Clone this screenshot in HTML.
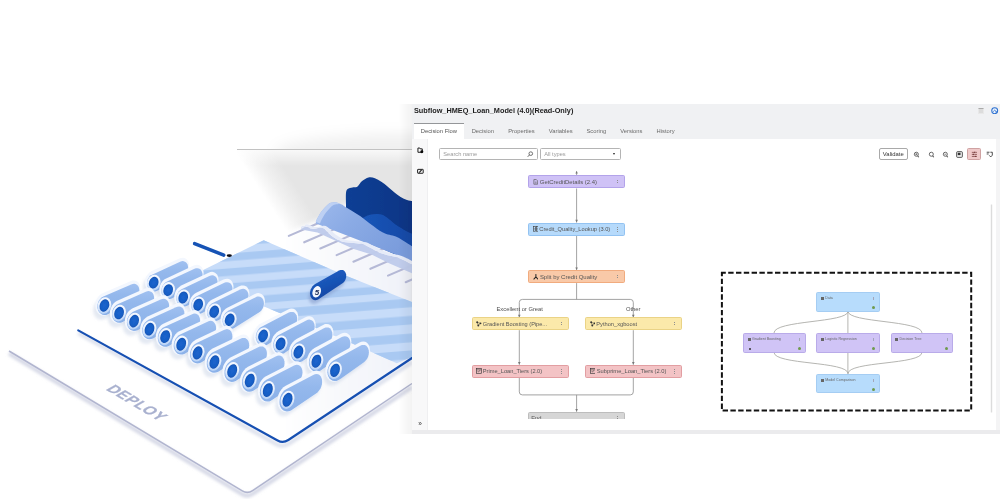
<!DOCTYPE html>
<html><head><meta charset="utf-8"><title>Subflow</title><style>
html,body{margin:0;padding:0;background:#fff}
body{width:1000px;height:499px;position:relative;overflow:hidden;font-family:"Liberation Sans",sans-serif}
#illus{position:absolute;left:0;top:0}
#win{position:absolute;left:0;top:0;width:1000px;height:499px;filter:blur(.35px)}
#win *{position:absolute;box-sizing:border-box}
#win svg *{position:static}
#hdr{left:412px;top:104px;width:588px;height:35px;background:#f0f1f3}
#win::before{content:"";position:absolute;left:412px;top:139px;width:588px;height:291px;background:#fff}
#title{left:414px;top:106.2px;font-size:7.3px;font-weight:bold;color:#1c1c1c;white-space:nowrap;line-height:9px}
#tabact{left:413.6px;top:122.9px;width:50.6px;height:16.1px;background:#fff;border-top:1.9px solid #949699}
.tab{top:128.3px;font-size:5.8px;line-height:7px;color:#6a6a6a;white-space:nowrap}
#hic1{left:978.3px;top:107.6px;width:6.2px;height:6.2px;background:#dcdcdc;border:1px solid #e8e8e8;border-top:1.6px solid #aaa}
#hic2{left:991.3px;top:106.8px;width:7.4px;height:7.4px}
#side{left:412px;top:139px;width:15.6px;height:291px;background:#f8f8f9;border-right:1px solid #efeff1}
.sic{width:6.8px;height:6.8px}
#chev{left:418.2px;top:420px;font-size:6.5px;line-height:8px;color:#333}
#search{left:439px;top:148px;width:98.6px;height:12.3px;border:1px solid #b4b4b4;border-radius:1.5px;background:#fff}
#search span{left:3.3px;top:2.1px;font-size:5.7px;line-height:7px;color:#9a9a9a;white-space:nowrap}
#search svg{right:2.6px;top:2.2px;width:6.6px;height:6.6px}
#types{left:540px;top:148px;width:80.6px;height:12.3px;border:1px solid #b4b4b4;border-radius:1.5px;background:#fff}
#types span{left:3.2px;top:2.1px;font-size:5.7px;line-height:7px;color:#9a9a9a;white-space:nowrap}
#types i{right:4.6px;top:4.4px;width:0;height:0;border-left:1.7px solid transparent;border-right:1.7px solid transparent;border-top:2.3px solid #222}
#validate{left:878.9px;top:147.9px;width:28.8px;height:12.5px;border:1px solid #a9a9a9;border-radius:2px;background:#fff;font-size:5.9px;line-height:10.6px;text-align:center;color:#333}
.tic{top:150.8px;width:7px;height:7px}
#pinkb{left:967.4px;top:148.4px;width:13.2px;height:11.2px;background:#efc9c9;border:1px solid #cfa2a2;border-radius:1.5px}
#pinkb svg{left:2.2px;top:1.2px;width:6.8px;height:6.8px}
#wires{left:0;top:0}
.node{border:1px solid;border-radius:1.6px}
.node .ic{left:3.3px;top:2.8px;width:5.8px;height:5.8px}
.node .ic svg{left:0;top:0}
.node .lb{top:2.7px;font-size:5.8px;line-height:7px;color:#555;white-space:nowrap}
.node .kb{right:5.9px;top:3.7px;width:.9px;height:4.6px;background:repeating-linear-gradient(#8e8e8e 0 .9px,transparent .9px 1.85px)}
.el{font-size:5.8px;line-height:7px;color:#4f4f4f;white-space:nowrap}
#endclip{left:528.4px;top:411.8px;width:96.8px;height:7.4px;overflow:hidden}
.mn{border:1px solid;border-radius:1.6px}
.mn .mi{left:3.8px;top:4px;width:2.8px;height:3px;background:repeating-linear-gradient(#666 0 .7px,transparent .7px 1.15px)}
.mn .ml{left:7.9px;top:3.1px;font-size:3.6px;line-height:4.2px;color:#666;white-space:nowrap}
.mn .mk{right:5.2px;top:4.2px;width:.7px;height:3px;background:#a3a6ba}
.mn .md{right:4px;top:13.2px;width:3px;height:3px;border-radius:50%;background:#6f9a4d}
.mn .md2{left:4.6px;top:13.8px;width:2px;height:2px;border-radius:50%;background:#333}
#botbar{left:412px;top:429.8px;width:588px;height:3.9px;background:#ebebed}
#rstrip{left:996.4px;top:139px;width:3.6px;height:291px;background:#f4f4f5}
</style></head>
<body>

<svg id="illus" width="1000" height="499" viewBox="0 0 1000 499">
<defs>
  <linearGradient id="gg" gradientUnits="userSpaceOnUse" x1="239" y1="158" x2="266" y2="140.4">
    <stop offset="0" stop-color="#ffffff"/><stop offset=".45" stop-color="#f1f1f1"/><stop offset="1" stop-color="#e5e5e5"/>
  </linearGradient>
  <linearGradient id="gt" x1="0" y1="0" x2="0" y2="1">
    <stop offset="0" stop-color="#fff" stop-opacity=".75"/><stop offset="1" stop-color="#fff" stop-opacity="0"/>
  </linearGradient>
  <linearGradient id="cb" x1="0" y1="0" x2="0" y2="1">
    <stop offset="0" stop-color="#a0c0f0"/><stop offset=".35" stop-color="#94b8ec"/><stop offset="1" stop-color="#8bb1e9"/>
  </linearGradient>
  <linearGradient id="cr" x1=".3" y1="0" x2=".6" y2="1">
    <stop offset="0" stop-color="#f6f9ff"/><stop offset=".45" stop-color="#e9f1fd"/><stop offset="1" stop-color="#b7d2f7"/>
  </linearGradient>
  <radialGradient id="cc" cx=".5" cy=".5" r=".5">
    <stop offset="0" stop-color="#1b64cd"/><stop offset=".7" stop-color="#185fc6"/><stop offset="1" stop-color="#1351b2"/>
  </radialGradient>
  <linearGradient id="sb" x1=".3" y1="0" x2=".7" y2="1">
    <stop offset="0" stop-color="#2060c4"/><stop offset=".5" stop-color="#1752b4"/><stop offset="1" stop-color="#10429c"/>
  </linearGradient>
  <linearGradient id="wn" x1="0" y1="0" x2="1" y2="0">
    <stop offset="0" stop-color="#0d3f95"/><stop offset="1" stop-color="#0a3585"/>
  </linearGradient>
  <linearGradient id="wm" x1="0" y1="0" x2="1" y2="0">
    <stop offset="0" stop-color="#1a55b8"/><stop offset="1" stop-color="#1549a6"/>
  </linearGradient>
  <linearGradient id="wl" x1="0" y1="0" x2="1" y2=".6">
    <stop offset="0" stop-color="#9db9ec"/><stop offset=".4" stop-color="#8babe5"/><stop offset="1" stop-color="#7a9cdc"/>
  </linearGradient>
  <linearGradient id="pl" gradientUnits="userSpaceOnUse" x1="280" y1="0" x2="412" y2="0">
    <stop offset="0" stop-color="#ffffff"/><stop offset="1" stop-color="#eff1f8"/>
  </linearGradient>
  <linearGradient id="wsh" x1="0" y1="0" x2="1" y2="0">
    <stop offset="0" stop-color="#000" stop-opacity="0"/><stop offset="1" stop-color="#000" stop-opacity=".05"/>
  </linearGradient>
  <filter id="b1" x="-5%" y="-5%" width="110%" height="110%"><feGaussianBlur stdDeviation="0.4"/></filter>
  <filter id="b2" x="-30%" y="-60%" width="160%" height="220%"><feGaussianBlur stdDeviation="1.5"/></filter>
  <filter id="b4" x="-10%" y="-10%" width="120%" height="120%"><feGaussianBlur stdDeviation="2.2"/></filter>
  <filter id="b5" x="-5%" y="-5%" width="110%" height="110%"><feGaussianBlur stdDeviation="0.6"/></filter>
  <filter id="b6" x="-30%" y="-60%" width="160%" height="220%"><feGaussianBlur stdDeviation="7"/></filter>
  <filter id="b3" x="-30%" y="-30%" width="160%" height="160%"><feGaussianBlur stdDeviation="3"/></filter>
  <clipPath id="cs"><path d="M263.7,240.2 L193,275 L264,306.5 L342,339 L396.8,363.3 L412,357 L412,302 L344.7,275.2 Z"/></clipPath>
  <clipPath id="ctop"><rect x="250" y="100" width="162" height="49"/></clipPath>
  <clipPath id="cl"><rect x="0" y="0" width="412" height="499"/></clipPath>
</defs>
<g clip-path="url(#cl)" filter="url(#b1)">
  <!-- grey gradient backdrop -->
  <rect x="237" y="150" width="175" height="170" fill="url(#gg)"/>
  <rect x="237" y="150" width="175" height="16" fill="url(#gt)"/>
  <line x1="237" y1="149.5" x2="412" y2="149.5" stroke="#c2c2c2" stroke-width="1"/>
  <ellipse cx="400" cy="153" rx="125" ry="19" fill="#000" fill-opacity=".06" filter="url(#b6)" clip-path="url(#ctop)"/>
  <!-- lower base plate (white) + raised plate top -->
  <path d="M9,351 L78.5,313 L78.5,330 L283,443 L412,358 L412,383.5 L247.5,494 Z" fill="#fff"/>
  <path d="M78.5,330 L263.7,241.5 L288,231.6 L301,227 L316,220.5 L346,203 L412,230 L412,358 L283,443.5 Z" fill="url(#pl)" filter="url(#b4)"/>
  <!-- waves -->
  <path d="M346.0,204.3 C346.0,202.4 345.7,195.6 346.0,193.1 C346.3,190.6 346.5,190.0 347.6,189.1 C348.7,188.2 350.9,187.9 352.5,187.5 C354.1,187.1 355.7,187.8 357.3,186.7 C358.9,185.6 360.2,182.5 362.1,181.0 C364.0,179.5 366.4,178.0 368.5,177.5 C370.6,177.0 372.8,177.5 374.9,178.2 C377.0,178.9 379.1,180.4 381.3,181.8 C383.5,183.2 385.7,184.9 387.8,186.7 C389.9,188.4 392.1,190.6 394.2,192.3 C396.3,194.0 398.5,195.8 400.6,197.1 C402.7,198.4 405.0,199.3 407.0,200.0 C409.0,200.7 411.6,200.9 412.5,201.1 L412.5,250.0 L346.0,222.0 Z" fill="url(#wn)" />
<path d="M362.0,219.0 C362.4,218.7 363.2,217.8 364.5,217.1 C365.8,216.4 368.0,215.3 370.0,214.8 C372.0,214.3 374.3,213.9 376.5,213.9 C378.7,213.9 380.9,214.1 383.0,215.0 C385.1,215.9 387.5,218.1 389.4,219.5 C391.3,220.9 392.3,222.1 394.2,223.5 C396.1,224.9 398.5,226.5 400.6,227.8 C402.7,229.1 405.0,230.5 407.0,231.5 C409.0,232.5 411.6,233.6 412.5,234.0 L412.5,262.0 L362.0,240.0 Z" fill="url(#wm)" />
<g stroke="#b5b9d6" stroke-width="2.1" stroke-linecap="round"><line x1="288.8" y1="235.9" x2="319.8" y2="222.5"/>
<line x1="304.2" y1="242.3" x2="335.2" y2="228.9"/>
<line x1="320.3" y1="248.5" x2="351.3" y2="235.1"/>
<line x1="336.6" y1="255.1" x2="367.6" y2="241.7"/>
<line x1="353.4" y1="261.7" x2="384.4" y2="248.29999999999998"/>
<line x1="370.4" y1="268.8" x2="401.4" y2="255.4"/>
<line x1="388" y1="275.6" x2="419" y2="262.20000000000005"/>
<line x1="405.7" y1="282.2" x2="436.7" y2="268.8"/></g>
<path d="M315.8,222.0 C316.1,221.3 316.5,219.8 317.5,218.0 C318.5,216.2 320.0,213.3 321.8,211.0 C323.6,208.7 326.6,205.3 328.5,203.9 C330.4,202.5 331.7,202.8 333.0,202.6 C334.3,202.4 335.0,202.2 336.4,202.5 C337.8,202.8 339.3,203.3 341.2,204.3 C343.1,205.3 345.5,207.0 347.6,208.3 C349.8,209.6 352.0,211.0 354.1,212.3 C356.2,213.6 358.4,214.8 360.5,216.3 C362.6,217.8 364.8,219.6 366.9,221.2 C369.0,222.8 371.2,224.4 373.3,226.0 C375.4,227.6 377.6,229.5 379.7,230.8 C381.8,232.1 384.0,233.2 386.2,234.0 C388.4,234.8 390.5,234.9 392.6,235.6 C394.7,236.3 396.9,236.9 399.0,238.0 C401.1,239.1 403.1,240.6 405.4,242.0 C407.6,243.4 411.3,245.8 412.5,246.5 L412.5,261.0 L316.0,223.5 Z" fill="url(#wl)" />
<path d="M315.8,222.0 C316.1,221.3 316.5,219.8 317.5,218.0 C318.5,216.2 320.0,213.3 321.8,211.0 C323.6,208.7 326.6,205.3 328.5,203.9 C330.4,202.5 331.7,202.8 333.0,202.6 C334.3,202.4 335.0,202.2 336.4,202.5 C337.8,202.8 340.4,204.0 341.2,204.3 L345.4,205.9 C344.6,205.6 342.0,204.4 340.6,204.1 C339.2,203.8 338.5,204.0 337.2,204.2 C335.9,204.4 334.6,204.1 332.7,205.5 C330.8,206.9 327.8,210.2 326.0,212.6 C324.2,214.9 322.7,217.8 321.7,219.6 C320.7,221.4 320.3,222.9 320.0,223.6 Z" fill="#bdd0f3" />
<path d="M301.0,229.0 C301.2,228.6 301.2,226.8 302.0,226.4 C302.8,226.0 304.5,226.2 306.0,226.6 C307.5,227.0 309.1,228.3 310.8,228.6 C312.5,228.9 314.4,228.6 316.0,228.4 C317.6,228.2 319.4,227.5 320.7,227.5 C322.0,227.5 322.9,227.9 324.0,228.6 C325.1,229.3 325.7,230.4 327.4,231.9 C329.1,233.4 331.4,235.8 334.0,237.4 C336.6,239.1 339.5,240.9 342.8,241.8 C346.1,242.7 350.5,242.5 353.8,242.9 C357.1,243.3 359.9,243.2 362.7,244.0 C365.5,244.8 367.5,246.3 370.4,247.8 C373.3,249.3 377.0,251.6 380.3,252.9 C383.6,254.2 386.9,254.8 390.2,255.7 C393.5,256.6 396.5,256.9 400.2,258.4 C403.9,259.9 410.4,263.5 412.5,264.5 L412.5,273.5 L389.1,263.3 L371.5,254.6 L353.8,248.9 L336.2,241.0 L317.4,232.4 L301.0,229.6 Z" fill="#bfcbeb" fill-opacity=".97"/>
<path d="M301.0,229.0 C301.2,228.6 301.2,226.8 302.0,226.4 C302.8,226.0 304.5,226.2 306.0,226.6 C307.5,227.0 309.1,228.3 310.8,228.6 C312.5,228.9 314.4,228.6 316.0,228.4 C317.6,228.2 319.4,227.5 320.7,227.5 C322.0,227.5 322.9,227.9 324.0,228.6 C325.1,229.3 325.7,230.4 327.4,231.9 C329.1,233.4 331.4,235.8 334.0,237.4 C336.6,239.1 339.5,240.9 342.8,241.8 C346.1,242.7 350.5,242.5 353.8,242.9 C357.1,243.3 359.9,243.2 362.7,244.0 C365.5,244.8 367.5,246.3 370.4,247.8 C373.3,249.3 377.0,251.6 380.3,252.9 C383.6,254.2 386.9,254.8 390.2,255.7 C393.5,256.6 396.5,256.9 400.2,258.4 C403.9,259.9 410.4,263.5 412.5,264.5 L415.9,262.8 C413.8,261.8 407.3,258.2 403.6,256.7 C399.9,255.2 396.9,254.9 393.6,254.0 C390.3,253.1 387.0,252.5 383.7,251.2 C380.4,249.9 376.7,247.6 373.8,246.1 C370.9,244.6 368.9,243.1 366.1,242.3 C363.3,241.5 360.5,241.6 357.2,241.2 C353.9,240.8 349.5,241.0 346.2,240.1 C342.9,239.2 340.0,237.4 337.4,235.7 C334.8,234.1 332.5,231.7 330.8,230.2 C329.1,228.7 328.5,227.6 327.4,226.9 C326.3,226.2 325.4,225.8 324.1,225.8 C322.8,225.8 321.0,226.5 319.4,226.7 C317.8,226.9 315.9,227.2 314.2,226.9 C312.5,226.6 310.9,225.3 309.4,224.9 C307.9,224.5 306.2,224.3 305.4,224.7 C304.6,225.1 304.6,226.9 304.4,227.3 Z" fill="#e6ebf8" />
  <!-- striped area -->
  <g clip-path="url(#cs)">
    <rect x="180" y="230" width="240" height="150" fill="#c7dcf9"/>
    <g transform="rotate(-4.5 300 300)" filter="url(#b5)"><rect x="170" y="233.2" width="260" height="7.5" fill="#a9c9f2"/>
<rect x="170" y="248.1" width="260" height="7.5" fill="#a9c9f2"/>
<rect x="170" y="262.9" width="260" height="7.5" fill="#a9c9f2"/>
<rect x="170" y="277.8" width="260" height="7.5" fill="#a9c9f2"/>
<rect x="170" y="292.6" width="260" height="7.5" fill="#a9c9f2"/>
<rect x="170" y="307.2" width="260" height="8.6" fill="#a9c9f2"/>
<rect x="170" y="324.5" width="260" height="8.6" fill="#a9c9f2"/>
<rect x="170" y="342.2" width="260" height="8.6" fill="#a9c9f2"/>
<rect x="170" y="359.0" width="260" height="8.6" fill="#a9c9f2"/>
<rect x="170" y="376.7" width="260" height="8.6" fill="#a9c9f2"/></g>
  </g>
  <!-- pen -->
  <line x1="194.6" y1="243.6" x2="223.8" y2="255.2" stroke="#1553b5" stroke-width="3.5" stroke-linecap="round"/>
  <ellipse cx="229.3" cy="255.6" rx="2.6" ry="1.3" fill="#0a0a12"/>
  <!-- S cylinder -->
  <path d="M308.5,297.1 L308.7,295.3 L309.2,293.4 L310.0,291.7 L311.1,290.1 L312.3,288.9 L313.8,287.9 L337.6,274.3 L338.9,273.8 L340.2,273.7 L341.5,273.9 L342.6,274.6 L343.5,275.5 L344.2,276.7 L344.6,278.1 L344.8,279.7 L344.6,281.3 L344.2,282.9 L343.5,284.4 L342.5,285.8 L341.4,286.9 L318.1,302.4 L316.6,303.3 L315.2,303.8 L313.7,304.0 L312.3,303.7 L311.0,303.0 L309.9,301.9 L309.1,300.6 L308.7,298.9Z" fill="#7f97c6" fill-opacity=".55" filter="url(#b2)"/><path d="M310.0,293.3 L310.2,291.5 L310.7,289.6 L311.5,287.9 L312.6,286.3 L313.8,285.1 L315.2,284.1 L339.1,270.5 L340.4,270.0 L341.7,269.9 L343.0,270.1 L344.1,270.8 L345.0,271.7 L345.7,272.9 L346.1,274.3 L346.2,275.9 L346.1,277.5 L345.7,279.1 L345.0,280.6 L344.0,282.0 L342.9,283.1 L319.6,298.6 L318.1,299.5 L316.7,300.0 L315.2,300.2 L313.8,299.9 L312.5,299.2 L311.4,298.1 L310.6,296.8 L310.2,295.1Z" fill="url(#sb)" /><ellipse cx="316.7" cy="291.8" rx="4.1" ry="5.9" fill="#f4f7fd" transform="rotate(20 316.7 291.8)"/><text x="316.9" y="294.6" font-family="Liberation Sans, sans-serif" font-size="8" font-weight="bold" font-style="italic" fill="#1a2a55" text-anchor="middle">5</text>
  <!-- cylinders -->
  <path d="M142.8,287.8 L142.9,285.6 L143.4,283.4 L144.4,281.3 L145.7,279.5 L147.3,278.0 L149.1,276.9 L177.6,263.3 L179.2,262.7 L180.8,262.6 L182.4,262.9 L183.8,263.6 L184.9,264.7 L185.8,266.1 L186.4,267.8 L186.7,269.7 L186.5,271.6 L186.1,273.6 L185.2,275.4 L184.1,277.0 L182.8,278.4 L181.3,279.3 L156.1,294.4 L154.3,295.5 L152.3,296.1 L150.3,296.2 L148.4,295.8 L146.6,294.9 L145.1,293.6 L144.0,291.9 L143.2,290.0Z" fill="#9fb0d2" fill-opacity=".28" filter="url(#b2)"/>
<path d="M144.9,283.0 L145.0,280.6 L145.6,278.2 L146.6,275.9 L148.0,273.9 L149.8,272.3 L151.7,271.1 L179.3,258.5 L181.0,257.9 L182.8,257.7 L184.5,258.0 L186.0,258.8 L187.2,260.0 L188.2,261.6 L188.9,263.4 L189.1,265.5 L189.0,267.6 L188.4,269.8 L187.5,271.8 L186.3,273.6 L184.9,275.0 L183.2,276.1 L157.1,291.3 L155.0,291.9 L152.8,292.1 L150.8,291.6 L148.9,290.7 L147.3,289.3 L146.1,287.5 L145.3,285.3Z" fill="#f3f7fe" />
<path d="M147.0,283.9 L147.1,282.0 L147.5,280.0 L148.3,278.2 L149.5,276.6 L151.0,275.3 L152.6,274.4 L180.1,261.7 L181.5,261.2 L182.9,261.1 L184.3,261.4 L185.5,262.0 L186.6,263.0 L187.4,264.2 L187.9,265.7 L188.1,267.4 L188.0,269.0 L187.6,270.7 L186.9,272.3 L185.9,273.7 L184.8,274.8 L183.4,275.7 L159.0,289.9 L157.4,290.8 L155.6,291.4 L153.8,291.4 L152.1,291.1 L150.5,290.3 L149.1,289.1 L148.1,287.6 L147.3,285.9Z" fill="url(#cb)" />
<ellipse cx="153.7" cy="282.7" rx="6.70" ry="8.06" fill="url(#cr)" transform="rotate(19 153.7 282.7)"/>
<ellipse cx="153.7" cy="282.7" rx="4.70" ry="5.96" fill="url(#cc)" transform="rotate(19 153.7 282.7)"/>
<path d="M157.3,295.3 L157.3,293.0 L157.9,290.7 L158.8,288.6 L160.2,286.8 L161.8,285.3 L163.7,284.2 L192.0,270.4 L193.7,269.8 L195.3,269.6 L196.8,269.9 L198.2,270.7 L199.4,271.8 L200.3,273.2 L200.9,275.0 L201.1,276.9 L201.0,278.9 L200.5,280.8 L199.7,282.7 L198.6,284.3 L197.2,285.7 L195.7,286.7 L170.6,301.9 L168.8,303.0 L166.8,303.6 L164.8,303.8 L162.8,303.4 L161.1,302.5 L159.6,301.2 L158.4,299.5 L157.6,297.5Z" fill="#9fb0d2" fill-opacity=".28" filter="url(#b2)"/>
<path d="M159.3,290.5 L159.4,288.0 L160.0,285.5 L161.1,283.3 L162.5,281.2 L164.2,279.6 L166.2,278.4 L193.7,265.6 L195.5,264.9 L197.2,264.8 L198.9,265.1 L200.4,265.9 L201.7,267.1 L202.7,268.7 L203.3,270.6 L203.6,272.7 L203.4,274.9 L202.9,277.0 L202.0,279.1 L200.8,280.9 L199.3,282.4 L197.6,283.5 L171.6,298.8 L169.4,299.5 L167.3,299.6 L165.2,299.2 L163.4,298.3 L161.8,296.9 L160.5,295.0 L159.7,292.8Z" fill="#f3f7fe" />
<path d="M161.4,291.4 L161.5,289.4 L161.9,287.4 L162.8,285.5 L164.0,283.9 L165.4,282.6 L167.1,281.6 L194.5,268.8 L195.9,268.3 L197.4,268.2 L198.7,268.5 L200.0,269.1 L201.0,270.1 L201.8,271.4 L202.4,272.9 L202.6,274.5 L202.5,276.2 L202.1,278.0 L201.3,279.6 L200.3,281.0 L199.2,282.2 L197.8,283.0 L173.6,297.4 L171.9,298.4 L170.1,298.9 L168.3,299.0 L166.5,298.6 L164.9,297.8 L163.5,296.6 L162.5,295.1 L161.7,293.4Z" fill="url(#cb)" />
<ellipse cx="168.2" cy="290.1" rx="6.70" ry="8.13" fill="url(#cr)" transform="rotate(19 168.2 290.1)"/>
<ellipse cx="168.2" cy="290.1" rx="4.70" ry="6.03" fill="url(#cc)" transform="rotate(19 168.2 290.1)"/>
<path d="M172.2,302.7 L172.3,300.4 L172.8,298.1 L173.8,296.0 L175.2,294.1 L176.8,292.6 L178.7,291.4 L206.9,277.5 L208.6,276.9 L210.2,276.7 L211.8,277.0 L213.2,277.7 L214.4,278.9 L215.3,280.4 L215.9,282.1 L216.1,284.0 L216.0,286.1 L215.5,288.1 L214.6,289.9 L213.5,291.6 L212.1,293.0 L210.6,294.0 L185.6,309.4 L183.7,310.6 L181.7,311.2 L179.7,311.3 L177.8,310.9 L176.0,310.1 L174.5,308.7 L173.3,307.0 L172.5,304.9Z" fill="#9fb0d2" fill-opacity=".28" filter="url(#b2)"/>
<path d="M174.2,297.9 L174.4,295.4 L175.0,292.9 L176.0,290.6 L177.5,288.6 L179.2,286.9 L181.2,285.6 L208.6,272.7 L210.4,272.0 L212.2,271.8 L213.9,272.2 L215.4,272.9 L216.7,274.2 L217.7,275.8 L218.3,277.7 L218.5,279.8 L218.4,282.1 L217.8,284.3 L216.9,286.3 L215.7,288.2 L214.2,289.7 L212.5,290.8 L186.6,306.4 L184.4,307.1 L182.3,307.2 L180.2,306.8 L178.3,305.8 L176.7,304.4 L175.4,302.5 L174.6,300.3Z" fill="#f3f7fe" />
<path d="M176.3,298.9 L176.4,296.8 L176.9,294.8 L177.8,292.9 L179.0,291.2 L180.4,289.9 L182.1,288.9 L209.4,275.9 L210.9,275.4 L212.3,275.3 L213.7,275.5 L214.9,276.2 L216.0,277.2 L216.8,278.5 L217.3,280.0 L217.6,281.7 L217.4,283.5 L217.0,285.2 L216.3,286.8 L215.3,288.3 L214.1,289.5 L212.7,290.4 L188.6,304.9 L186.9,305.9 L185.1,306.5 L183.2,306.6 L181.5,306.2 L179.8,305.4 L178.5,304.2 L177.4,302.6 L176.7,300.8Z" fill="url(#cb)" />
<ellipse cx="183.2" cy="297.5" rx="6.70" ry="8.20" fill="url(#cr)" transform="rotate(19 183.2 297.5)"/>
<ellipse cx="183.2" cy="297.5" rx="4.70" ry="6.10" fill="url(#cc)" transform="rotate(19 183.2 297.5)"/>
<path d="M187.1,310.0 L187.2,307.6 L187.8,305.3 L188.8,303.1 L190.1,301.2 L191.8,299.6 L193.7,298.5 L221.9,284.4 L223.5,283.8 L225.2,283.6 L226.7,283.9 L228.2,284.6 L229.3,285.8 L230.3,287.3 L230.8,289.1 L231.1,291.0 L230.9,293.1 L230.4,295.1 L229.6,297.0 L228.4,298.7 L227.0,300.1 L225.5,301.2 L200.6,316.8 L198.7,317.9 L196.7,318.6 L194.7,318.7 L192.7,318.3 L190.9,317.4 L189.4,316.1 L188.2,314.3 L187.4,312.2Z" fill="#9fb0d2" fill-opacity=".28" filter="url(#b2)"/>
<path d="M189.2,305.2 L189.3,302.6 L189.9,300.1 L191.0,297.8 L192.4,295.7 L194.2,293.9 L196.2,292.7 L223.5,279.6 L225.3,278.9 L227.1,278.7 L228.8,279.0 L230.4,279.8 L231.7,281.1 L232.6,282.7 L233.3,284.7 L233.5,286.8 L233.3,289.1 L232.8,291.3 L231.8,293.4 L230.6,295.3 L229.1,296.8 L227.4,298.0 L201.6,313.7 L199.4,314.4 L197.2,314.6 L195.1,314.2 L193.2,313.2 L191.6,311.7 L190.3,309.8 L189.5,307.6Z" fill="#f3f7fe" />
<path d="M191.3,306.1 L191.3,304.0 L191.8,302.0 L192.7,300.0 L193.9,298.3 L195.4,296.9 L197.1,295.9 L224.3,282.8 L225.8,282.3 L227.2,282.2 L228.6,282.4 L229.9,283.1 L231.0,284.1 L231.8,285.4 L232.3,286.9 L232.5,288.7 L232.4,290.5 L231.9,292.2 L231.2,293.9 L230.2,295.4 L229.0,296.6 L227.6,297.5 L203.6,312.3 L201.9,313.3 L200.0,313.8 L198.2,313.9 L196.4,313.6 L194.8,312.8 L193.4,311.5 L192.3,310.0 L191.6,308.1Z" fill="url(#cb)" />
<ellipse cx="198.2" cy="304.7" rx="6.70" ry="8.27" fill="url(#cr)" transform="rotate(19 198.2 304.7)"/>
<ellipse cx="198.2" cy="304.7" rx="4.70" ry="6.17" fill="url(#cc)" transform="rotate(19 198.2 304.7)"/>
<path d="M203.0,317.0 L203.2,314.6 L203.7,312.3 L204.7,310.1 L206.1,308.1 L207.8,306.5 L209.7,305.4 L237.8,291.1 L239.4,290.4 L241.1,290.3 L242.7,290.6 L244.1,291.3 L245.3,292.5 L246.2,294.0 L246.8,295.8 L247.0,297.8 L246.9,299.9 L246.3,301.9 L245.5,303.9 L244.3,305.6 L242.9,307.1 L241.3,308.1 L216.6,323.9 L214.7,325.0 L212.7,325.7 L210.6,325.9 L208.7,325.5 L206.9,324.6 L205.3,323.2 L204.2,321.4 L203.4,319.3Z" fill="#9fb0d2" fill-opacity=".28" filter="url(#b2)"/>
<path d="M205.1,312.2 L205.2,309.6 L205.9,307.1 L206.9,304.7 L208.4,302.6 L210.2,300.8 L212.3,299.6 L239.4,286.3 L241.2,285.6 L243.1,285.4 L244.8,285.7 L246.3,286.5 L247.6,287.8 L248.6,289.4 L249.2,291.4 L249.4,293.6 L249.3,295.9 L248.7,298.1 L247.8,300.3 L246.5,302.2 L245.0,303.7 L243.3,304.9 L217.5,320.8 L215.4,321.6 L213.2,321.7 L211.1,321.3 L209.2,320.3 L207.5,318.9 L206.3,316.9 L205.4,314.7Z" fill="#f3f7fe" />
<path d="M207.2,313.2 L207.3,311.0 L207.8,308.9 L208.7,307.0 L209.9,305.2 L211.4,303.8 L213.2,302.8 L240.2,289.5 L241.7,289.0 L243.2,288.8 L244.6,289.1 L245.8,289.8 L246.9,290.8 L247.7,292.1 L248.3,293.7 L248.5,295.4 L248.3,297.2 L247.9,299.1 L247.1,300.8 L246.1,302.3 L244.9,303.5 L243.5,304.5 L219.6,319.4 L217.8,320.4 L216.0,321.0 L214.2,321.1 L212.4,320.7 L210.7,319.9 L209.3,318.7 L208.2,317.1 L207.5,315.2Z" fill="url(#cb)" />
<ellipse cx="214.2" cy="311.7" rx="6.70" ry="8.34" fill="url(#cr)" transform="rotate(19 214.2 311.7)"/>
<ellipse cx="214.2" cy="311.7" rx="4.70" ry="6.24" fill="url(#cc)" transform="rotate(19 214.2 311.7)"/>
<path d="M218.5,325.1 L218.6,322.7 L219.2,320.3 L220.2,318.0 L221.6,316.0 L223.3,314.4 L225.2,313.2 L253.2,298.8 L254.8,298.1 L256.5,297.9 L258.1,298.2 L259.6,299.0 L260.8,300.1 L261.7,301.7 L262.3,303.5 L262.5,305.5 L262.3,307.6 L261.8,309.8 L260.9,311.8 L259.7,313.5 L258.3,315.0 L256.7,316.1 L232.1,332.0 L230.2,333.2 L228.2,333.9 L226.1,334.0 L224.1,333.6 L222.3,332.7 L220.8,331.3 L219.6,329.5 L218.8,327.4Z" fill="#9fb0d2" fill-opacity=".28" filter="url(#b2)"/>
<path d="M220.5,320.3 L220.7,317.7 L221.3,315.1 L222.4,312.6 L223.9,310.5 L225.7,308.7 L227.8,307.4 L254.9,294.0 L256.7,293.3 L258.5,293.1 L260.2,293.4 L261.8,294.2 L263.1,295.5 L264.1,297.1 L264.7,299.1 L264.9,301.3 L264.7,303.7 L264.1,305.9 L263.2,308.1 L261.9,310.1 L260.4,311.7 L258.7,312.9 L233.0,329.0 L230.8,329.7 L228.6,329.9 L226.5,329.5 L224.6,328.5 L222.9,327.0 L221.7,325.1 L220.9,322.8Z" fill="#f3f7fe" />
<path d="M222.6,321.2 L222.7,319.1 L223.2,316.9 L224.1,314.9 L225.4,313.1 L226.9,311.7 L228.7,310.6 L255.7,297.2 L257.1,296.6 L258.6,296.5 L260.0,296.8 L261.3,297.4 L262.4,298.5 L263.2,299.8 L263.7,301.4 L263.9,303.2 L263.8,305.1 L263.3,306.9 L262.6,308.6 L261.5,310.2 L260.3,311.5 L258.9,312.4 L235.1,327.5 L233.3,328.6 L231.5,329.1 L229.6,329.3 L227.8,328.9 L226.2,328.1 L224.7,326.8 L223.7,325.2 L222.9,323.3Z" fill="url(#cb)" />
<ellipse cx="229.7" cy="319.7" rx="6.70" ry="8.42" fill="url(#cr)" transform="rotate(19 229.7 319.7)"/>
<ellipse cx="229.7" cy="319.7" rx="4.70" ry="6.32" fill="url(#cc)" transform="rotate(19 229.7 319.7)"/>
<path d="M251.7,341.3 L251.8,338.8 L252.5,336.3 L253.5,334.0 L254.9,331.9 L256.7,330.2 L258.6,329.0 L286.4,314.2 L288.1,313.5 L289.8,313.3 L291.4,313.6 L292.9,314.4 L294.1,315.6 L295.0,317.2 L295.6,319.1 L295.8,321.1 L295.6,323.3 L295.0,325.5 L294.1,327.6 L292.9,329.4 L291.5,330.9 L289.9,332.1 L265.5,348.4 L263.6,349.6 L261.5,350.3 L259.4,350.5 L257.4,350.1 L255.6,349.2 L254.0,347.8 L252.8,345.9 L252.0,343.7Z" fill="#9fb0d2" fill-opacity=".28" filter="url(#b2)"/>
<path d="M253.8,336.5 L253.9,333.8 L254.6,331.1 L255.7,328.6 L257.2,326.4 L259.1,324.6 L261.2,323.2 L288.1,309.4 L289.9,308.7 L291.7,308.4 L293.5,308.8 L295.1,309.6 L296.4,310.9 L297.4,312.6 L298.0,314.7 L298.2,316.9 L298.0,319.3 L297.4,321.7 L296.4,323.9 L295.1,325.9 L293.6,327.6 L291.8,328.8 L268.5,344.1 L266.4,345.4 L264.2,346.2 L261.9,346.4 L259.8,346.0 L257.8,345.0 L256.2,343.4 L254.9,341.4 L254.1,339.1Z" fill="#f3f7fe" />
<path d="M255.8,337.4 L256.0,335.2 L256.5,333.0 L257.4,330.9 L258.7,329.1 L260.3,327.5 L262.1,326.4 L288.8,312.6 L290.4,312.1 L291.9,311.9 L293.3,312.1 L294.6,312.8 L295.7,313.9 L296.5,315.3 L297.0,316.9 L297.2,318.8 L297.1,320.7 L296.6,322.6 L295.8,324.4 L294.7,326.1 L293.4,327.4 L292.0,328.4 L268.5,343.9 L266.7,345.0 L264.8,345.6 L262.9,345.7 L261.1,345.4 L259.4,344.5 L258.0,343.2 L256.9,341.6 L256.2,339.6Z" fill="url(#cb)" />
<ellipse cx="263.1" cy="335.8" rx="6.70" ry="8.58" fill="url(#cr)" transform="rotate(19 263.1 335.8)"/>
<ellipse cx="263.1" cy="335.8" rx="4.70" ry="6.48" fill="url(#cc)" transform="rotate(19 263.1 335.8)"/>
<path d="M269.1,349.5 L269.3,346.9 L269.9,344.4 L271.0,342.0 L272.4,339.9 L274.2,338.2 L276.1,336.9 L303.8,322.0 L305.5,321.3 L307.2,321.1 L308.8,321.3 L310.3,322.1 L311.5,323.3 L312.4,324.9 L313.0,326.9 L313.2,329.0 L313.0,331.2 L312.5,333.4 L311.6,335.5 L310.3,337.4 L308.9,338.9 L307.2,340.1 L283.0,356.6 L281.1,357.9 L279.0,358.6 L276.8,358.8 L274.8,358.4 L273.0,357.5 L271.4,356.0 L270.2,354.1 L269.4,351.9Z" fill="#9fb0d2" fill-opacity=".28" filter="url(#b2)"/>
<path d="M271.2,344.7 L271.4,341.9 L272.0,339.2 L273.2,336.6 L274.7,334.4 L276.6,332.5 L278.7,331.1 L305.4,317.2 L307.3,316.4 L309.2,316.2 L310.9,316.5 L312.5,317.3 L313.8,318.7 L314.8,320.4 L315.4,322.5 L315.7,324.8 L315.4,327.2 L314.8,329.6 L313.8,331.9 L312.5,333.9 L310.9,335.6 L309.2,336.9 L286.0,352.3 L283.9,353.6 L281.6,354.5 L279.4,354.7 L277.2,354.2 L275.3,353.2 L273.6,351.7 L272.3,349.7 L271.5,347.3Z" fill="#f3f7fe" />
<path d="M273.3,345.6 L273.4,343.3 L273.9,341.1 L274.9,338.9 L276.2,337.1 L277.8,335.5 L279.6,334.4 L306.2,320.4 L307.8,319.8 L309.3,319.6 L310.8,319.9 L312.1,320.6 L313.1,321.6 L314.0,323.1 L314.5,324.8 L314.7,326.6 L314.5,328.6 L314.0,330.6 L313.2,332.4 L312.1,334.1 L310.8,335.4 L309.4,336.4 L286.0,352.1 L284.2,353.2 L282.3,353.9 L280.4,354.0 L278.5,353.7 L276.8,352.8 L275.4,351.5 L274.3,349.8 L273.6,347.8Z" fill="url(#cb)" />
<ellipse cx="280.6" cy="343.9" rx="6.70" ry="8.66" fill="url(#cr)" transform="rotate(19 280.6 343.9)"/>
<ellipse cx="280.6" cy="343.9" rx="4.70" ry="6.56" fill="url(#cc)" transform="rotate(19 280.6 343.9)"/>
<path d="M286.8,357.6 L287.0,355.1 L287.6,352.5 L288.7,350.1 L290.2,347.9 L291.9,346.2 L293.9,344.9 L321.5,329.7 L323.2,329.0 L324.9,328.8 L326.6,329.1 L328.0,329.9 L329.3,331.1 L330.2,332.7 L330.8,334.7 L331.0,336.8 L330.8,339.1 L330.2,341.3 L329.3,343.5 L328.0,345.4 L326.6,346.9 L324.9,348.1 L300.9,364.8 L298.9,366.1 L296.7,366.9 L294.6,367.1 L292.6,366.7 L290.7,365.7 L289.1,364.3 L287.9,362.4 L287.1,360.1Z" fill="#9fb0d2" fill-opacity=".28" filter="url(#b2)"/>
<path d="M288.9,352.8 L289.1,350.1 L289.8,347.3 L290.9,344.7 L292.5,342.4 L294.4,340.5 L296.5,339.1 L323.1,324.9 L325.0,324.1 L326.9,323.9 L328.7,324.2 L330.2,325.1 L331.6,326.4 L332.6,328.2 L333.2,330.3 L333.4,332.6 L333.2,335.1 L332.6,337.5 L331.6,339.8 L330.2,341.9 L328.6,343.6 L326.8,344.9 L303.8,360.5 L301.7,361.9 L299.4,362.7 L297.1,362.9 L295.0,362.5 L293.0,361.5 L291.3,359.9 L290.0,357.9 L289.2,355.5Z" fill="#f3f7fe" />
<path d="M291.0,353.8 L291.1,351.4 L291.7,349.1 L292.7,347.0 L294.0,345.1 L295.6,343.5 L297.4,342.3 L323.9,328.2 L325.5,327.5 L327.0,327.4 L328.5,327.6 L329.8,328.3 L330.9,329.4 L331.7,330.9 L332.2,332.6 L332.4,334.5 L332.2,336.5 L331.7,338.5 L330.9,340.4 L329.8,342.0 L328.5,343.4 L327.0,344.5 L303.8,360.3 L302.0,361.5 L300.1,362.1 L298.1,362.3 L296.2,361.9 L294.6,361.1 L293.1,359.8 L292.0,358.0 L291.3,356.0Z" fill="url(#cb)" />
<ellipse cx="298.4" cy="352.0" rx="6.70" ry="8.73" fill="url(#cr)" transform="rotate(19 298.4 352.0)"/>
<ellipse cx="298.4" cy="352.0" rx="4.70" ry="6.63" fill="url(#cc)" transform="rotate(19 298.4 352.0)"/>
<path d="M304.7,366.9 L304.9,364.3 L305.6,361.7 L306.7,359.2 L308.1,357.0 L309.9,355.2 L312.0,353.9 L339.3,338.6 L341.1,337.8 L342.8,337.6 L344.5,337.9 L346.0,338.7 L347.2,339.9 L348.1,341.6 L348.7,343.6 L348.9,345.8 L348.7,348.1 L348.1,350.3 L347.2,352.5 L345.9,354.4 L344.4,356.1 L342.8,357.3 L318.9,374.2 L316.8,375.5 L314.7,376.3 L312.5,376.5 L310.5,376.1 L308.6,375.1 L307.0,373.6 L305.8,371.7 L305.1,369.4Z" fill="#9fb0d2" fill-opacity=".28" filter="url(#b2)"/>
<path d="M306.8,362.1 L307.0,359.3 L307.7,356.5 L308.9,353.8 L310.5,351.5 L312.4,349.5 L314.5,348.1 L341.0,333.8 L342.9,333.0 L344.8,332.7 L346.6,333.0 L348.2,333.9 L349.5,335.2 L350.5,337.0 L351.1,339.2 L351.4,341.6 L351.1,344.1 L350.5,346.5 L349.5,348.9 L348.1,351.0 L346.5,352.7 L344.7,354.1 L321.8,369.9 L319.7,371.3 L317.4,372.1 L315.1,372.4 L312.9,371.9 L310.9,370.9 L309.2,369.3 L307.9,367.2 L307.1,364.8Z" fill="#f3f7fe" />
<path d="M308.9,363.1 L309.0,360.7 L309.6,358.3 L310.6,356.1 L312.0,354.1 L313.6,352.5 L315.4,351.4 L341.8,337.0 L343.4,336.4 L344.9,336.2 L346.4,336.4 L347.7,337.1 L348.9,338.2 L349.7,339.7 L350.2,341.5 L350.4,343.4 L350.2,345.4 L349.7,347.5 L348.8,349.4 L347.7,351.1 L346.4,352.6 L344.9,353.6 L321.8,369.7 L320.0,370.9 L318.0,371.6 L316.1,371.7 L314.2,371.4 L312.5,370.5 L311.0,369.1 L309.9,367.4 L309.2,365.3Z" fill="url(#cb)" />
<ellipse cx="316.4" cy="361.2" rx="6.70" ry="8.83" fill="url(#cr)" transform="rotate(19 316.4 361.2)"/>
<ellipse cx="316.4" cy="361.2" rx="4.70" ry="6.73" fill="url(#cc)" transform="rotate(19 316.4 361.2)"/>
<path d="M323.2,376.1 L323.4,373.4 L324.1,370.7 L325.2,368.2 L326.7,366.0 L328.5,364.2 L330.6,362.8 L357.8,347.3 L359.6,346.5 L361.4,346.3 L363.0,346.6 L364.5,347.4 L365.8,348.7 L366.7,350.3 L367.3,352.4 L367.4,354.6 L367.2,356.9 L366.6,359.2 L365.7,361.5 L364.4,363.4 L362.9,365.1 L361.2,366.3 L337.5,383.4 L335.4,384.8 L333.3,385.6 L331.1,385.8 L329.0,385.4 L327.1,384.4 L325.5,382.9 L324.3,381.0 L323.6,378.6Z" fill="#9fb0d2" fill-opacity=".28" filter="url(#b2)"/>
<path d="M325.3,371.3 L325.5,368.4 L326.2,365.5 L327.4,362.9 L329.0,360.5 L331.0,358.5 L333.1,357.0 L359.5,342.5 L361.4,341.7 L363.3,341.4 L365.1,341.7 L366.7,342.6 L368.1,344.0 L369.1,345.8 L369.7,348.0 L369.9,350.4 L369.7,352.9 L369.0,355.4 L368.0,357.8 L366.6,360.0 L364.9,361.8 L363.1,363.1 L340.4,379.1 L338.2,380.6 L335.9,381.4 L333.6,381.7 L331.4,381.2 L329.4,380.2 L327.7,378.6 L326.4,376.5 L325.6,374.0Z" fill="#f3f7fe" />
<path d="M327.4,372.2 L327.6,369.8 L328.2,367.4 L329.2,365.1 L330.5,363.1 L332.2,361.5 L334.0,360.3 L360.3,345.7 L361.9,345.1 L363.4,344.9 L364.9,345.1 L366.3,345.8 L367.4,347.0 L368.2,348.5 L368.7,350.2 L368.9,352.2 L368.7,354.3 L368.2,356.4 L367.3,358.4 L366.2,360.1 L364.8,361.6 L363.3,362.7 L340.4,378.9 L338.6,380.1 L336.6,380.9 L334.6,381.0 L332.7,380.7 L331.0,379.8 L329.5,378.4 L328.4,376.6 L327.7,374.5Z" fill="url(#cb)" />
<ellipse cx="335.0" cy="370.3" rx="6.70" ry="8.91" fill="url(#cr)" transform="rotate(19 335.0 370.3)"/>
<ellipse cx="335.0" cy="370.3" rx="4.70" ry="6.81" fill="url(#cc)" transform="rotate(19 335.0 370.3)"/>
<path d="M93.2,310.9 L93.3,308.5 L93.9,306.1 L94.9,303.8 L96.3,301.9 L98.0,300.2 L99.9,299.1 L128.7,286.1 L130.3,285.4 L132.0,285.3 L133.6,285.6 L135.1,286.3 L136.3,287.5 L137.2,289.0 L137.8,290.8 L138.0,292.8 L137.8,294.9 L137.3,297.0 L136.4,299.0 L135.2,300.8 L133.8,302.2 L132.2,303.3 L104.9,318.9 L102.9,319.6 L100.8,319.8 L98.8,319.4 L97.0,318.5 L95.5,317.1 L94.3,315.3 L93.5,313.2Z" fill="#9fb0d2" fill-opacity=".28" filter="url(#b2)"/>
<path d="M95.2,306.1 L95.4,303.5 L96.0,300.9 L97.1,298.4 L98.6,296.3 L100.4,294.6 L102.5,293.3 L130.4,281.3 L132.2,280.6 L134.0,280.4 L135.7,280.7 L137.3,281.5 L138.6,282.8 L139.6,284.5 L140.2,286.4 L140.4,288.6 L140.2,290.9 L139.6,293.2 L138.7,295.4 L137.4,297.3 L135.9,298.9 L134.2,300.1 L107.7,314.7 L105.5,315.5 L103.3,315.7 L101.2,315.2 L99.3,314.3 L97.7,312.8 L96.4,310.8 L95.6,308.6Z" fill="#f3f7fe" />
<path d="M97.3,307.0 L97.4,304.9 L98.0,302.7 L98.8,300.7 L100.1,299.0 L101.6,297.5 L103.4,296.5 L131.2,284.5 L132.6,284.0 L134.1,283.8 L135.5,284.1 L136.8,284.8 L137.9,285.8 L138.7,287.1 L139.2,288.7 L139.4,290.5 L139.3,292.4 L138.8,294.2 L138.1,295.9 L137.0,297.4 L135.8,298.7 L134.4,299.7 L108.0,314.3 L106.2,314.9 L104.3,315.0 L102.5,314.7 L100.9,313.8 L99.5,312.6 L98.4,311.0 L97.7,309.1Z" fill="url(#cb)" />
<ellipse cx="104.4" cy="305.5" rx="6.70" ry="8.40" fill="url(#cr)" transform="rotate(19 104.4 305.5)"/>
<ellipse cx="104.4" cy="305.5" rx="4.70" ry="6.30" fill="url(#cc)" transform="rotate(19 104.4 305.5)"/>
<path d="M107.8,318.5 L107.9,316.1 L108.5,313.6 L109.6,311.4 L111.0,309.4 L112.7,307.7 L114.6,306.5 L143.3,293.4 L145.0,292.7 L146.7,292.5 L148.3,292.8 L149.7,293.6 L150.9,294.8 L151.8,296.3 L152.4,298.2 L152.6,300.2 L152.5,302.4 L151.9,304.5 L151.0,306.5 L149.9,308.3 L148.4,309.8 L146.8,310.9 L119.6,326.7 L117.5,327.4 L115.5,327.6 L113.5,327.2 L111.7,326.2 L110.1,324.8 L108.9,323.0 L108.1,320.9Z" fill="#9fb0d2" fill-opacity=".28" filter="url(#b2)"/>
<path d="M109.9,313.7 L110.0,311.1 L110.7,308.5 L111.8,306.0 L113.3,303.8 L115.1,302.0 L117.2,300.7 L145.0,288.6 L146.8,287.9 L148.6,287.7 L150.4,288.0 L151.9,288.8 L153.2,290.1 L154.2,291.8 L154.9,293.8 L155.1,296.0 L154.9,298.4 L154.3,300.7 L153.3,302.9 L152.0,304.8 L150.5,306.4 L148.8,307.6 L122.4,322.5 L120.2,323.2 L118.0,323.4 L115.9,323.0 L113.9,322.0 L112.3,320.5 L111.0,318.6 L110.2,316.3Z" fill="#f3f7fe" />
<path d="M112.0,314.7 L112.1,312.5 L112.6,310.3 L113.5,308.3 L114.8,306.5 L116.3,305.0 L118.1,303.9 L145.8,291.8 L147.3,291.3 L148.8,291.1 L150.2,291.4 L151.5,292.0 L152.6,293.1 L153.4,294.4 L153.9,296.1 L154.1,297.9 L153.9,299.8 L153.5,301.6 L152.7,303.4 L151.7,305.0 L150.4,306.2 L149.0,307.2 L122.7,322.1 L120.9,322.7 L119.0,322.8 L117.2,322.4 L115.5,321.6 L114.1,320.3 L113.0,318.7 L112.3,316.8Z" fill="url(#cb)" />
<ellipse cx="119.1" cy="313.1" rx="6.70" ry="8.47" fill="url(#cr)" transform="rotate(19 119.1 313.1)"/>
<ellipse cx="119.1" cy="313.1" rx="4.70" ry="6.37" fill="url(#cc)" transform="rotate(19 119.1 313.1)"/>
<path d="M122.7,326.6 L122.9,324.1 L123.5,321.6 L124.5,319.3 L125.9,317.3 L127.7,315.6 L129.6,314.3 L158.2,301.1 L159.9,300.4 L161.6,300.2 L163.2,300.5 L164.7,301.2 L165.9,302.4 L166.8,304.0 L167.4,305.9 L167.6,308.0 L167.4,310.1 L166.9,312.3 L166.0,314.4 L164.8,316.2 L163.3,317.7 L161.7,318.8 L134.6,334.9 L132.5,335.6 L130.4,335.8 L128.4,335.4 L126.6,334.4 L125.0,333.0 L123.8,331.2 L123.0,329.0Z" fill="#9fb0d2" fill-opacity=".28" filter="url(#b2)"/>
<path d="M124.8,321.8 L125.0,319.1 L125.6,316.4 L126.7,313.9 L128.2,311.7 L130.1,309.9 L132.2,308.6 L159.9,296.3 L161.7,295.5 L163.6,295.3 L165.3,295.6 L166.9,296.5 L168.2,297.8 L169.2,299.5 L169.8,301.5 L170.1,303.8 L169.8,306.1 L169.2,308.5 L168.3,310.7 L167.0,312.7 L165.4,314.4 L163.7,315.6 L137.4,330.6 L135.2,331.4 L132.9,331.6 L130.8,331.2 L128.9,330.2 L127.2,328.7 L125.9,326.7 L125.1,324.4Z" fill="#f3f7fe" />
<path d="M126.9,322.7 L127.0,320.5 L127.5,318.3 L128.5,316.2 L129.8,314.4 L131.3,312.9 L133.1,311.8 L160.7,299.5 L162.2,298.9 L163.7,298.8 L165.2,299.0 L166.4,299.7 L167.5,300.8 L168.3,302.1 L168.9,303.8 L169.1,305.6 L168.9,307.6 L168.4,309.5 L167.6,311.3 L166.6,312.9 L165.3,314.2 L163.9,315.2 L137.7,330.2 L135.8,330.8 L133.9,331.0 L132.1,330.6 L130.4,329.8 L129.0,328.5 L127.9,326.8 L127.2,324.9Z" fill="url(#cb)" />
<ellipse cx="134.1" cy="321.1" rx="6.70" ry="8.55" fill="url(#cr)" transform="rotate(19 134.1 321.1)"/>
<ellipse cx="134.1" cy="321.1" rx="4.70" ry="6.45" fill="url(#cc)" transform="rotate(19 134.1 321.1)"/>
<path d="M138.0,334.8 L138.2,332.2 L138.8,329.7 L139.9,327.4 L141.3,325.3 L143.1,323.5 L145.0,322.3 L173.5,308.8 L175.3,308.1 L177.0,307.9 L178.6,308.2 L180.1,309.0 L181.3,310.2 L182.2,311.8 L182.8,313.7 L183.0,315.8 L182.8,318.1 L182.2,320.2 L181.3,322.3 L180.1,324.2 L178.7,325.7 L177.0,326.9 L150.0,343.1 L147.9,343.9 L145.8,344.0 L143.7,343.6 L141.9,342.7 L140.3,341.3 L139.1,339.4 L138.4,337.2Z" fill="#9fb0d2" fill-opacity=".28" filter="url(#b2)"/>
<path d="M140.1,329.9 L140.3,327.2 L140.9,324.5 L142.1,322.0 L143.6,319.7 L145.5,317.9 L147.6,316.5 L175.2,304.1 L177.1,303.3 L178.9,303.1 L180.7,303.4 L182.3,304.2 L183.6,305.5 L184.6,307.3 L185.2,309.4 L185.4,311.6 L185.2,314.1 L184.6,316.4 L183.6,318.7 L182.3,320.7 L180.7,322.4 L178.9,323.7 L152.8,338.9 L150.6,339.7 L148.3,339.9 L146.1,339.5 L144.2,338.5 L142.5,336.9 L141.3,334.9 L140.4,332.6Z" fill="#f3f7fe" />
<path d="M142.2,330.9 L142.3,328.6 L142.9,326.4 L143.8,324.3 L145.1,322.4 L146.7,320.9 L148.5,319.7 L176.0,307.3 L177.5,306.7 L179.1,306.5 L180.5,306.8 L181.8,307.4 L182.9,308.5 L183.7,309.9 L184.2,311.6 L184.4,313.5 L184.3,315.4 L183.8,317.4 L183.0,319.2 L181.9,320.9 L180.6,322.2 L179.2,323.2 L153.1,338.5 L151.2,339.1 L149.3,339.3 L147.4,338.9 L145.7,338.1 L144.3,336.8 L143.2,335.1 L142.5,333.1Z" fill="url(#cb)" />
<ellipse cx="149.5" cy="329.2" rx="6.70" ry="8.63" fill="url(#cr)" transform="rotate(19 149.5 329.2)"/>
<ellipse cx="149.5" cy="329.2" rx="4.70" ry="6.53" fill="url(#cc)" transform="rotate(19 149.5 329.2)"/>
<path d="M153.7,342.2 L153.8,339.6 L154.5,337.1 L155.5,334.7 L157.0,332.6 L158.8,330.8 L160.7,329.5 L189.2,315.9 L190.9,315.2 L192.6,315.0 L194.2,315.3 L195.7,316.1 L196.9,317.3 L197.9,318.9 L198.4,320.9 L198.6,323.0 L198.4,325.2 L197.9,327.5 L196.9,329.6 L195.7,331.5 L194.2,333.1 L192.6,334.2 L165.7,350.7 L163.6,351.4 L161.4,351.6 L159.4,351.2 L157.5,350.3 L156.0,348.8 L154.8,346.9 L154.0,344.7Z" fill="#9fb0d2" fill-opacity=".28" filter="url(#b2)"/>
<path d="M155.7,337.4 L155.9,334.6 L156.6,331.9 L157.7,329.3 L159.3,327.0 L161.2,325.1 L163.3,323.8 L190.8,311.1 L192.7,310.4 L194.6,310.1 L196.3,310.4 L197.9,311.3 L199.3,312.6 L200.3,314.4 L200.9,316.5 L201.1,318.8 L200.9,321.2 L200.2,323.7 L199.2,326.0 L197.9,328.0 L196.3,329.7 L194.5,331.0 L168.5,346.4 L166.2,347.3 L164.0,347.5 L161.8,347.1 L159.8,346.1 L158.2,344.5 L156.9,342.4 L156.1,340.1Z" fill="#f3f7fe" />
<path d="M157.8,338.4 L157.9,336.0 L158.5,333.8 L159.5,331.6 L160.8,329.7 L162.4,328.1 L164.2,327.0 L191.6,314.4 L193.2,313.8 L194.7,313.6 L196.2,313.8 L197.5,314.5 L198.6,315.6 L199.4,317.1 L199.9,318.8 L200.1,320.7 L199.9,322.6 L199.4,324.6 L198.6,326.5 L197.5,328.2 L196.2,329.5 L194.7,330.6 L168.8,346.0 L166.9,346.7 L164.9,346.8 L163.1,346.5 L161.4,345.6 L159.9,344.3 L158.8,342.6 L158.1,340.6Z" fill="url(#cb)" />
<ellipse cx="165.2" cy="336.6" rx="6.70" ry="8.70" fill="url(#cr)" transform="rotate(19 165.2 336.6)"/>
<ellipse cx="165.2" cy="336.6" rx="4.70" ry="6.60" fill="url(#cc)" transform="rotate(19 165.2 336.6)"/>
<path d="M169.6,349.9 L169.8,347.3 L170.4,344.7 L171.5,342.2 L173.0,340.1 L174.8,338.3 L176.8,337.0 L205.1,323.2 L206.8,322.5 L208.6,322.3 L210.2,322.6 L211.7,323.3 L212.9,324.6 L213.8,326.2 L214.4,328.2 L214.6,330.4 L214.4,332.6 L213.8,334.9 L212.9,337.1 L211.6,339.0 L210.2,340.6 L208.5,341.8 L181.7,358.4 L179.5,359.2 L177.4,359.4 L175.3,359.0 L173.4,358.0 L171.9,356.6 L170.7,354.6 L169.9,352.4Z" fill="#9fb0d2" fill-opacity=".28" filter="url(#b2)"/>
<path d="M171.7,345.1 L171.8,342.3 L172.5,339.5 L173.7,336.9 L175.3,334.5 L177.2,332.6 L179.3,331.2 L206.7,318.4 L208.6,317.6 L210.5,317.4 L212.3,317.7 L213.9,318.6 L215.2,319.9 L216.2,321.7 L216.8,323.8 L217.0,326.2 L216.8,328.6 L216.2,331.1 L215.2,333.4 L213.8,335.5 L212.2,337.2 L210.4,338.5 L184.5,354.2 L182.2,355.0 L179.9,355.2 L177.7,354.8 L175.7,353.8 L174.1,352.2 L172.8,350.2 L172.0,347.8Z" fill="#f3f7fe" />
<path d="M173.7,346.0 L173.9,343.7 L174.5,341.3 L175.4,339.1 L176.8,337.2 L178.4,335.6 L180.2,334.4 L207.5,321.7 L209.1,321.0 L210.6,320.8 L212.1,321.1 L213.4,321.8 L214.5,322.9 L215.4,324.4 L215.9,326.1 L216.1,328.0 L215.9,330.0 L215.4,332.0 L214.5,333.9 L213.4,335.6 L212.1,337.1 L210.6,338.1 L184.8,353.8 L182.8,354.4 L180.9,354.6 L179.0,354.2 L177.3,353.4 L175.9,352.0 L174.8,350.3 L174.0,348.3Z" fill="url(#cb)" />
<ellipse cx="181.2" cy="344.2" rx="6.70" ry="8.78" fill="url(#cr)" transform="rotate(19 181.2 344.2)"/>
<ellipse cx="181.2" cy="344.2" rx="4.70" ry="6.68" fill="url(#cc)" transform="rotate(19 181.2 344.2)"/>
<path d="M185.9,358.6 L186.1,356.0 L186.7,353.4 L187.8,350.9 L189.3,348.7 L191.1,346.9 L193.2,345.5 L221.4,331.6 L223.1,330.8 L224.9,330.6 L226.6,330.9 L228.0,331.7 L229.3,332.9 L230.2,334.6 L230.8,336.6 L231.0,338.8 L230.8,341.1 L230.2,343.4 L229.2,345.6 L227.9,347.6 L226.4,349.2 L224.8,350.4 L198.0,367.3 L195.9,368.1 L193.7,368.3 L191.6,367.9 L189.8,366.9 L188.2,365.4 L187.0,363.5 L186.2,361.2Z" fill="#9fb0d2" fill-opacity=".28" filter="url(#b2)"/>
<path d="M188.0,353.8 L188.2,351.0 L188.9,348.1 L190.1,345.5 L191.7,343.1 L193.6,341.2 L195.7,339.7 L223.1,326.8 L224.9,326.0 L226.8,325.7 L228.7,326.0 L230.3,326.9 L231.6,328.3 L232.6,330.1 L233.2,332.2 L233.4,334.6 L233.2,337.1 L232.5,339.6 L231.5,342.0 L230.1,344.1 L228.5,345.9 L226.7,347.2 L200.9,363.1 L198.6,363.9 L196.3,364.1 L194.1,363.7 L192.1,362.7 L190.4,361.1 L189.1,359.0 L188.3,356.6Z" fill="#f3f7fe" />
<path d="M190.1,354.8 L190.2,352.4 L190.8,350.0 L191.8,347.8 L193.1,345.8 L194.8,344.2 L196.6,343.0 L223.8,330.0 L225.4,329.4 L227.0,329.1 L228.5,329.4 L229.8,330.1 L230.9,331.2 L231.7,332.7 L232.2,334.5 L232.4,336.5 L232.2,338.5 L231.7,340.6 L230.9,342.5 L229.7,344.2 L228.4,345.7 L226.9,346.8 L201.2,362.6 L199.2,363.3 L197.2,363.5 L195.3,363.1 L193.6,362.3 L192.2,360.9 L191.1,359.1 L190.3,357.1Z" fill="url(#cb)" />
<ellipse cx="197.6" cy="352.9" rx="6.70" ry="8.87" fill="url(#cr)" transform="rotate(19 197.6 352.9)"/>
<ellipse cx="197.6" cy="352.9" rx="4.70" ry="6.77" fill="url(#cc)" transform="rotate(19 197.6 352.9)"/>
<path d="M202.6,367.8 L202.8,365.1 L203.5,362.4 L204.6,359.9 L206.1,357.6 L207.9,355.8 L210.0,354.4 L238.1,340.3 L239.8,339.6 L241.6,339.3 L243.3,339.6 L244.8,340.4 L246.1,341.7 L247.0,343.4 L247.6,345.4 L247.7,347.6 L247.5,350.0 L246.9,352.4 L245.9,354.6 L244.7,356.6 L243.1,358.2 L241.4,359.5 L214.8,376.6 L212.7,377.4 L210.5,377.6 L208.4,377.2 L206.5,376.2 L204.9,374.7 L203.7,372.7 L202.9,370.4Z" fill="#9fb0d2" fill-opacity=".28" filter="url(#b2)"/>
<path d="M204.7,363.0 L204.9,360.1 L205.6,357.2 L206.8,354.5 L208.4,352.1 L210.4,350.1 L212.6,348.6 L239.8,335.5 L241.7,334.7 L243.6,334.4 L245.4,334.7 L247.0,335.6 L248.4,337.0 L249.4,338.8 L250.0,341.0 L250.2,343.4 L249.9,346.0 L249.3,348.6 L248.2,351.0 L246.8,353.1 L245.2,354.9 L243.4,356.3 L217.6,372.4 L215.3,373.2 L213.0,373.5 L210.8,373.1 L208.8,372.0 L207.1,370.4 L205.8,368.3 L205.0,365.8Z" fill="#f3f7fe" />
<path d="M206.8,363.9 L206.9,361.5 L207.5,359.1 L208.5,356.8 L209.9,354.8 L211.6,353.1 L213.4,351.9 L240.5,338.8 L242.1,338.1 L243.7,337.9 L245.2,338.1 L246.6,338.9 L247.7,340.0 L248.5,341.5 L249.0,343.3 L249.2,345.3 L249.0,347.4 L248.4,349.5 L247.6,351.5 L246.4,353.2 L245.1,354.7 L243.6,355.8 L217.9,371.9 L216.0,372.6 L214.0,372.8 L212.1,372.5 L210.3,371.6 L208.9,370.2 L207.8,368.4 L207.0,366.3Z" fill="url(#cb)" />
<ellipse cx="214.4" cy="362.0" rx="6.70" ry="8.96" fill="url(#cr)" transform="rotate(19 214.4 362.0)"/>
<ellipse cx="214.4" cy="362.0" rx="4.70" ry="6.86" fill="url(#cc)" transform="rotate(19 214.4 362.0)"/>
<path d="M220.3,376.8 L220.5,374.0 L221.2,371.3 L222.3,368.7 L223.9,366.4 L225.7,364.6 L227.8,363.2 L255.8,348.8 L257.6,348.1 L259.4,347.8 L261.1,348.1 L262.6,348.9 L263.8,350.2 L264.8,351.9 L265.3,354.0 L265.5,356.3 L265.3,358.7 L264.6,361.1 L263.7,363.3 L262.4,365.4 L260.8,367.1 L259.1,368.3 L232.6,385.6 L230.4,386.5 L228.2,386.7 L226.1,386.3 L224.2,385.3 L222.6,383.8 L221.4,381.8 L220.6,379.4Z" fill="#9fb0d2" fill-opacity=".28" filter="url(#b2)"/>
<path d="M222.4,372.0 L222.6,369.0 L223.3,366.1 L224.6,363.4 L226.2,360.9 L228.2,358.9 L230.4,357.4 L257.4,344.1 L259.4,343.2 L261.3,342.9 L263.1,343.2 L264.8,344.1 L266.1,345.5 L267.1,347.4 L267.7,349.6 L267.9,352.1 L267.7,354.7 L267.0,357.3 L265.9,359.7 L264.5,361.9 L262.9,363.7 L261.0,365.1 L235.4,381.4 L233.1,382.3 L230.8,382.6 L228.5,382.2 L226.5,381.1 L224.8,379.5 L223.5,377.3 L222.7,374.8Z" fill="#f3f7fe" />
<path d="M224.5,372.9 L224.6,370.4 L225.3,368.0 L226.3,365.6 L227.7,363.6 L229.4,361.9 L231.3,360.6 L258.2,347.3 L259.8,346.6 L261.4,346.4 L263.0,346.6 L264.3,347.4 L265.4,348.5 L266.3,350.1 L266.8,351.9 L266.9,353.9 L266.7,356.1 L266.2,358.2 L265.3,360.2 L264.1,362.0 L262.8,363.5 L261.2,364.7 L235.7,381.0 L233.7,381.7 L231.7,381.9 L229.8,381.6 L228.1,380.7 L226.6,379.3 L225.5,377.4 L224.7,375.3Z" fill="url(#cb)" />
<ellipse cx="232.2" cy="370.9" rx="6.70" ry="9.05" fill="url(#cr)" transform="rotate(19 232.2 370.9)"/>
<ellipse cx="232.2" cy="370.9" rx="4.70" ry="6.95" fill="url(#cc)" transform="rotate(19 232.2 370.9)"/>
<path d="M237.8,386.4 L238.0,383.6 L238.7,380.9 L239.9,378.3 L241.4,375.9 L243.3,374.0 L245.4,372.6 L273.3,358.1 L275.1,357.3 L276.9,357.0 L278.6,357.3 L280.1,358.1 L281.4,359.4 L282.3,361.2 L282.9,363.3 L283.1,365.6 L282.8,368.0 L282.2,370.5 L281.2,372.8 L279.9,374.9 L278.3,376.6 L276.6,377.9 L250.2,395.4 L248.0,396.3 L245.8,396.5 L243.6,396.1 L241.7,395.1 L240.1,393.6 L238.9,391.5 L238.1,389.1Z" fill="#9fb0d2" fill-opacity=".28" filter="url(#b2)"/>
<path d="M239.9,381.6 L240.1,378.6 L240.9,375.7 L242.1,372.9 L243.8,370.4 L245.8,368.3 L248.0,366.8 L274.9,353.3 L276.9,352.4 L278.9,352.1 L280.7,352.4 L282.3,353.3 L283.7,354.8 L284.7,356.6 L285.3,358.9 L285.5,361.4 L285.2,364.0 L284.5,366.7 L283.5,369.2 L282.1,371.4 L280.4,373.3 L278.5,374.7 L253.0,391.2 L250.7,392.1 L248.3,392.4 L246.0,392.0 L244.0,390.9 L242.3,389.3 L241.0,387.1 L240.2,384.5Z" fill="#f3f7fe" />
<path d="M242.0,382.6 L242.2,380.1 L242.8,377.5 L243.8,375.2 L245.2,373.1 L247.0,371.3 L248.9,370.0 L275.7,356.5 L277.4,355.8 L279.0,355.6 L280.5,355.8 L281.9,356.6 L283.0,357.8 L283.8,359.3 L284.4,361.2 L284.5,363.2 L284.3,365.4 L283.7,367.6 L282.8,369.7 L281.6,371.5 L280.2,373.1 L278.7,374.2 L253.3,390.8 L251.3,391.6 L249.3,391.8 L247.3,391.4 L245.6,390.5 L244.1,389.1 L243.0,387.2 L242.2,385.0Z" fill="url(#cb)" />
<ellipse cx="249.8" cy="380.5" rx="6.70" ry="9.14" fill="url(#cr)" transform="rotate(19 249.8 380.5)"/>
<ellipse cx="249.8" cy="380.5" rx="4.70" ry="7.04" fill="url(#cc)" transform="rotate(19 249.8 380.5)"/>
<path d="M255.7,396.1 L255.9,393.3 L256.7,390.4 L257.8,387.8 L259.4,385.4 L261.3,383.4 L263.4,382.0 L291.2,367.3 L293.0,366.5 L294.8,366.2 L296.5,366.5 L298.1,367.3 L299.3,368.7 L300.3,370.4 L300.9,372.6 L301.0,374.9 L300.8,377.4 L300.1,379.9 L299.1,382.2 L297.8,384.4 L296.2,386.1 L294.4,387.4 L268.2,405.2 L265.9,406.1 L263.7,406.4 L261.6,406.0 L259.6,404.9 L258.0,403.4 L256.8,401.3 L256.0,398.8Z" fill="#9fb0d2" fill-opacity=".28" filter="url(#b2)"/>
<path d="M257.8,391.3 L258.0,388.3 L258.8,385.3 L260.0,382.4 L261.7,379.9 L263.7,377.8 L266.0,376.2 L292.8,362.5 L294.8,361.6 L296.8,361.3 L298.6,361.6 L300.3,362.5 L301.6,364.0 L302.7,365.9 L303.3,368.2 L303.4,370.7 L303.2,373.4 L302.5,376.1 L301.4,378.6 L299.9,380.9 L298.2,382.8 L296.4,384.2 L271.0,401.0 L268.6,401.9 L266.2,402.2 L263.9,401.8 L261.9,400.7 L260.2,399.1 L258.9,396.8 L258.1,394.2Z" fill="#f3f7fe" />
<path d="M259.9,392.3 L260.1,389.7 L260.7,387.1 L261.8,384.7 L263.2,382.5 L264.9,380.8 L266.9,379.4 L293.6,365.8 L295.3,365.0 L296.9,364.8 L298.4,365.0 L299.8,365.8 L301.0,367.0 L301.8,368.6 L302.3,370.5 L302.5,372.6 L302.2,374.8 L301.6,377.0 L300.7,379.1 L299.6,381.0 L298.1,382.6 L296.6,383.8 L271.3,400.6 L269.3,401.4 L267.2,401.6 L265.2,401.2 L263.5,400.3 L262.0,398.9 L260.9,397.0 L260.1,394.7Z" fill="url(#cb)" />
<ellipse cx="267.8" cy="390.1" rx="6.70" ry="9.24" fill="url(#cr)" transform="rotate(19 267.8 390.1)"/>
<ellipse cx="267.8" cy="390.1" rx="4.70" ry="7.14" fill="url(#cc)" transform="rotate(19 267.8 390.1)"/>
<path d="M275.3,405.9 L275.6,403.0 L276.3,400.1 L277.5,397.4 L279.1,395.0 L281.0,393.0 L283.1,391.5 L310.7,376.6 L312.6,375.8 L314.4,375.5 L316.2,375.8 L317.7,376.6 L319.0,378.0 L319.9,379.8 L320.5,381.9 L320.6,384.3 L320.4,386.9 L319.7,389.4 L318.7,391.8 L317.4,393.9 L315.7,395.7 L314.0,397.1 L287.9,415.1 L285.6,416.0 L283.3,416.3 L281.2,415.9 L279.2,414.9 L277.6,413.3 L276.4,411.2 L275.6,408.7Z" fill="#9fb0d2" fill-opacity=".28" filter="url(#b2)"/>
<path d="M277.4,401.1 L277.6,398.0 L278.4,394.9 L279.7,392.0 L281.4,389.4 L283.4,387.3 L285.7,385.7 L312.4,371.8 L314.4,370.9 L316.4,370.6 L318.3,370.9 L319.9,371.8 L321.3,373.3 L322.3,375.2 L322.9,377.6 L323.1,380.1 L322.8,382.9 L322.1,385.6 L321.0,388.2 L319.5,390.5 L317.8,392.4 L315.9,393.9 L290.7,410.9 L288.3,411.9 L285.9,412.1 L283.6,411.7 L281.5,410.6 L279.8,408.9 L278.5,406.7 L277.7,404.0Z" fill="#f3f7fe" />
<path d="M279.5,402.0 L279.7,399.4 L280.3,396.8 L281.4,394.3 L282.9,392.1 L284.6,390.3 L286.6,388.9 L313.2,375.1 L314.9,374.3 L316.5,374.1 L318.1,374.3 L319.5,375.1 L320.6,376.3 L321.5,377.9 L322.0,379.8 L322.1,382.0 L321.9,384.2 L321.3,386.5 L320.4,388.7 L319.1,390.6 L317.7,392.2 L316.1,393.4 L291.0,410.5 L288.9,411.3 L286.8,411.5 L284.9,411.1 L283.1,410.2 L281.6,408.8 L280.4,406.8 L279.7,404.6Z" fill="url(#cb)" />
<ellipse cx="287.5" cy="399.8" rx="6.70" ry="9.33" fill="url(#cr)" transform="rotate(19 287.5 399.8)"/>
<ellipse cx="287.5" cy="399.8" rx="4.70" ry="7.23" fill="url(#cc)" transform="rotate(19 287.5 399.8)"/>
  <!-- plate edges -->
  <path d="M9,353.5 L242,494 Q247.5,497.5 253,493.5 L412,387" fill="none" stroke="#d5d8e6" stroke-width="4" filter="url(#b2)"/>
  <path d="M78.2,333 L277,444.5 Q283,447.5 289,443.5 L412,362" fill="none" stroke="#dde1ed" stroke-width="4" filter="url(#b2)"/>
  <path d="M9,351 L242.3,490.9 Q247.5,494 252.6,490.6 L412,383.5" fill="none" stroke="#b1b5cf" stroke-width="1.5" stroke-linejoin="round"/>
  <path d="M78.2,330.3 L277.6,440.5 Q283,443.5 288.3,440 L412,358" fill="none" stroke="#154fb2" stroke-width="2.1" stroke-linejoin="round" stroke-linecap="round"/>
  <!-- DEPLOY -->
  <g transform="translate(105.3,389.4) matrix(0.712,0.42,-0.792,0.439,0,0)">
    <text x="0" y="0" font-family="Liberation Sans, sans-serif" font-size="17.5" font-weight="bold" fill="#a9b1cf" stroke="#a9b1cf" stroke-width=".35" letter-spacing="0.7">DEPLOY</text>
  </g>
  <!-- window shadow -->
  <rect x="398" y="104" width="14" height="330" fill="url(#wsh)"/>
</g>
</svg>


<div id="win">
  <div id="hdr"></div>
  <div id="title">Subflow_HMEQ_Loan_Model (4.0)(Read-Only)</div>
  <div id="tabact"></div>
  <span class="tab" style="left:420.8px;color:#555">Decision Flow</span>
  <span class="tab" style="left:471.7px">Decision</span>
  <span class="tab" style="left:508.2px">Properties</span>
  <span class="tab" style="left:548.8px">Variables</span>
  <span class="tab" style="left:586.5px">Scoring</span>
  <span class="tab" style="left:620.2px">Versions</span>
  <span class="tab" style="left:656.6px">History</span>
  <div id="hic1"></div>
  <svg id="hic2" viewBox="0 0 10 10"><circle cx="5" cy="5" r="4" fill="#eef4fc" stroke="#2a6fd0" stroke-width="1.4"/><path d="M3,6.2Q5,2.4 7,6.2" fill="none" stroke="#2a6fd0" stroke-width="1.2"/><circle cx="7.2" cy="6.8" r="1.1" fill="#2a6fd0"/></svg>
  <div id="side"></div>
  <svg class="sic" style="left:417px;top:147px" viewBox="0 0 8 8"><path d="M1.1,2.2V1.2h2.2l.6,1h2.3v4H1.1z" fill="none" stroke="#111" stroke-width="1.1" stroke-linejoin="round"/><circle cx="5.7" cy="5.6" r="1.75" fill="#080808"/></svg>
  <svg class="sic" style="left:417px;top:168px" viewBox="0 0 8 8"><rect x=".7" y="1.6" width="6.6" height="4.6" rx=".5" fill="none" stroke="#111" stroke-width="1.1"/><path d="M1.6,5.6L4.6,2.2H6.4L3.4,5.6z" fill="#222"/></svg>
  <span id="chev">»</span>
  <div id="search"><span>Search name</span><svg viewBox="0 0 8 8"><circle cx="4.6" cy="3.2" r="2.2" fill="none" stroke="#444" stroke-width=".9"/><path d="M3,4.8L.9,7" stroke="#444" stroke-width="1"/></svg></div>
  <div id="types"><span>All types</span><i></i></div>
  <div id="validate">Validate</div>
  <svg class="tic" style="left:913.4px" viewBox="0 0 8 8"><circle cx="3.8" cy="3.7" r="2.3" fill="none" stroke="#555" stroke-width="1"/><path d="M5.3,5.5L6.6,7.1" stroke="#555" stroke-width="1.2"/><path d="M2.7,3.7h2.2M3.8,2.6v2.2" stroke="#555" stroke-width=".8"/></svg>
  <svg class="tic" style="left:927.5px" viewBox="0 0 8 8"><circle cx="3.8" cy="3.7" r="2.3" fill="none" stroke="#555" stroke-width="1"/><path d="M5.3,5.5L6.6,7.1" stroke="#555" stroke-width="1.2"/></svg>
  <svg class="tic" style="left:941.5px" viewBox="0 0 8 8"><circle cx="3.8" cy="3.7" r="2.3" fill="none" stroke="#555" stroke-width="1"/><path d="M5.3,5.5L6.6,7.1" stroke="#555" stroke-width="1.2"/><path d="M2.7,3.7h2.2" stroke="#555" stroke-width=".8"/></svg>
  <svg class="tic" style="left:955.9px" viewBox="0 0 8 8"><rect x=".8" y=".8" width="6.4" height="6.4" rx=".8" fill="none" stroke="#333" stroke-width="1"/><rect x="2" y="2" width="3.2" height="2.8" fill="#333"/></svg>
  <div id="pinkb"><svg viewBox="0 0 8 8"><path d="M1,1.6h3M5.4,1.6h1.6M1,4h1.4M4,4h3M1,6.4h3.6M6,6.4h1" stroke="#7a4040" stroke-width=".9"/><rect x="3.6" y=".8" width="1.6" height="1.6" fill="#7a4040"/><rect x="2.2" y="3.2" width="1.6" height="1.6" fill="#7a4040"/><rect x="4.6" y="5.6" width="1.6" height="1.6" fill="#7a4040"/></svg></div>
  <svg class="tic" style="left:985.6px" viewBox="0 0 8 8"><path d="M.8,1.4h3.2M.8,3.4h2.2" stroke="#333" stroke-width="1"/><path d="M5,1.4h2.2v3.4L5.4,6.8L3.8,5" fill="none" stroke="#333" stroke-width="1"/></svg>

  <svg id="wires" viewBox="0 0 1000 499" width="1000" height="499">
    <g fill="none" stroke="#929292" stroke-width="0.85">
      <path d="M576.6,171.5V175.2M576.6,188.5V222.5M576.6,235.5V270.1"/>
      <path d="M576.6,283.1V299.4M522.3,299.4H630.3M519.3,317.4V302.4Q519.3,299.4 522.3,299.4M633.3,317.4V302.4Q633.3,299.4 630.3,299.4"/>
      <path d="M519.3,330.2V364.7M633.3,330.2V364.7"/>
      <path d="M519.3,377.5V391.9Q519.3,394.9 522.3,394.9H630.3Q633.3,394.9 633.3,391.9V377.5M576.6,394.9V411.7"/>
    </g>
    <g fill="#777">
      <path d="M575.4,173.4L576.6,170.8L577.8,173.4z"/>
      <path d="M575.3,219.8L576.6,222.5L577.9,219.8z"/>
      <path d="M575.3,267.4L576.6,270.1L577.9,267.4z"/>
      <path d="M518,314.7L519.3,317.4L520.6,314.7z"/>
      <path d="M632,314.7L633.3,317.4L634.6,314.7z"/>
      <path d="M518,362L519.3,364.7L520.6,362z"/>
      <path d="M632,362L633.3,364.7L634.6,362z"/>
      <path d="M575.3,409L576.6,411.7L577.9,409z"/>
    </g>
    <g fill="none" stroke="#adada8" stroke-width="0.9">
      <path d="M847.9,311.3V333M847.9,352.3V373.7"/>
      <path d="M848,311.3C848,323 774,320 774,333"/>
      <path d="M848,311.3C848,323 922,320 922,333"/>
      <path d="M774,352.3C774,365 848,361 848,373.7"/>
      <path d="M922,352.3C922,365 848,361 848,373.7"/>
    </g>
    <rect x="721.9" y="272.8" width="249.3" height="137.8" fill="none" stroke="#121212" stroke-width="2" stroke-dasharray="5.4 2.4" stroke-dashoffset="1.5"/>
    <line x1="991.5" y1="204.5" x2="991.5" y2="412.5" stroke="#dcdcdc" stroke-width="1.4"/>
  </svg>
  <span class="el" style="left:496.5px;top:305.6px">Excellent or Great</span>
  <span class="el" style="left:626px;top:305.6px">Other</span>
  <div class="node" style="left:528.4px;top:175.2px;width:96.4px;height:13.3px;background:#cfc2f6;border-color:#b3a3ea"><span class="ic"><svg viewBox="0 0 8 8" width="5.8" height="5.8"><path d="M1.2,.8h3.4l1.8,1.8v4.6h-5.2z" fill="none" stroke="#555" stroke-width=".9"/><path d="M2.6,4.2h2.4M2.6,5.6h2.4" stroke="#555" stroke-width=".7"/></svg></span><span class="lb" style="left:10.4px;font-size:5.92px">GetCreditDetails (2.4)</span><span class="kb"></span></div>
<div class="node" style="left:528.4px;top:222.5px;width:96.4px;height:13.3px;background:#b6dafb;border-color:#93c3f2"><span class="ic"><svg viewBox="0 0 8 8" width="5.8" height="5.8"><rect x=".8" y=".8" width="2.6" height="6.4" fill="none" stroke="#444" stroke-width=".9"/><rect x="4.6" y=".8" width="2.6" height="6.4" fill="none" stroke="#444" stroke-width=".9"/><path d="M.8,4h2.6M4.6,4h2.6" stroke="#444" stroke-width=".7"/></svg></span><span class="lb" style="left:9.9px;font-size:5.68px">Credit_Quality_Lookup (3.0)</span><span class="kb"></span></div>
<div class="node" style="left:528.4px;top:270.0px;width:96.6px;height:13.2px;background:#f9c9a8;border-color:#f1ab7e"><span class="ic"><svg viewBox="0 0 8 8" width="5.8" height="5.8"><path d="M4,.6V4M4,4L1.2,7M4,4L6.8,7" fill="none" stroke="#222" stroke-width="1.4" stroke-linecap="round"/></svg></span><span class="lb" style="left:10.5px;font-size:5.97px">Split by Credit Quality</span><span class="kb"></span></div>
<div class="node" style="left:471.5px;top:317.2px;width:97.0px;height:13.1px;background:#fbe9aa;border-color:#ead386"><span class="ic"><svg viewBox="0 0 8 8" width="5.8" height="5.8"><circle cx="1.6" cy="1.8" r="1.3" fill="#333"/><circle cx="6.2" cy="3.2" r="1.3" fill="#333"/><circle cx="3.2" cy="6.2" r="1.3" fill="#333"/><path d="M1.6,1.8L6.2,3.2L3.2,6.2z" fill="none" stroke="#333" stroke-width=".6"/></svg></span><span class="lb" style="left:10.3px;font-size:5.62px">Gradient Boosting (Pipe...</span><span class="kb"></span></div>
<div class="node" style="left:585.3px;top:317.2px;width:96.7px;height:13.1px;background:#fbe9aa;border-color:#ead386"><span class="ic"><svg viewBox="0 0 8 8" width="5.8" height="5.8"><circle cx="1.6" cy="1.8" r="1.3" fill="#333"/><circle cx="6.2" cy="3.2" r="1.3" fill="#333"/><circle cx="3.2" cy="6.2" r="1.3" fill="#333"/><path d="M1.6,1.8L6.2,3.2L3.2,6.2z" fill="none" stroke="#333" stroke-width=".6"/></svg></span><span class="lb" style="left:10.0px;font-size:5.69px">Python_xgboost</span><span class="kb"></span></div>
<div class="node" style="left:471.5px;top:364.5px;width:97.0px;height:13.2px;background:#f3c3c5;border-color:#e29ea2"><span class="ic"><svg viewBox="0 0 8 8" width="5.8" height="5.8"><rect x=".7" y=".7" width="6.6" height="6.6" fill="none" stroke="#333" stroke-width=".9"/><path d="M.7,2.6h6.6M2.2,4.2l1.2,1.2l2.2,-2" fill="none" stroke="#333" stroke-width=".8"/></svg></span><span class="lb" style="left:10.3px;font-size:5.68px">Prime_Loan_Tiers (2.0)</span><span class="kb"></span></div>
<div class="node" style="left:585.3px;top:364.5px;width:96.7px;height:13.2px;background:#f3c3c5;border-color:#e29ea2"><span class="ic"><svg viewBox="0 0 8 8" width="5.8" height="5.8"><rect x=".7" y=".7" width="6.6" height="6.6" fill="none" stroke="#333" stroke-width=".9"/><path d="M.7,2.6h6.6M2.2,4.2l1.2,1.2l2.2,-2" fill="none" stroke="#333" stroke-width=".8"/></svg></span><span class="lb" style="left:10.5px;font-size:5.74px">Subprime_Loan_Tiers (2.0)</span><span class="kb"></span></div>
  <div id="endclip"><div class="node" style="left:0;top:0;width:96.6px;height:13px;background:#d6d6d6;border-color:#bdbdbd"><span class="lb" style="left:1.8px">End</span><span class="kb"></span></div></div>
  <div class="mn" style="left:816.4px;top:292px;width:63.4px;height:19.6px;background:#b7dcfc;border-color:#a5cdf3"><i class="mi"></i><span class="ml">Data</span><i class="mk"></i><i class="md"></i></div>
<div class="mn" style="left:743px;top:333px;width:62.5px;height:19.6px;background:#d0c4f6;border-color:#b9abe9"><i class="mi"></i><span class="ml">Gradient Boosting</span><i class="mk"></i><i class="md"></i><i class="md2"></i></div>
<div class="mn" style="left:816.4px;top:333px;width:63.4px;height:19.6px;background:#d0c4f6;border-color:#b9abe9"><i class="mi"></i><span class="ml">Logistic Regression</span><i class="mk"></i><i class="md"></i></div>
<div class="mn" style="left:890.7px;top:333px;width:62.8px;height:19.6px;background:#d0c4f6;border-color:#b9abe9"><i class="mi"></i><span class="ml">Decision Tree</span><i class="mk"></i><i class="md"></i></div>
<div class="mn" style="left:816.4px;top:373.7px;width:63.4px;height:19.6px;background:#b7dcfc;border-color:#a5cdf3"><i class="mi"></i><span class="ml">Model Comparison</span><i class="mk"></i><i class="md"></i></div>
  <div id="rstrip"></div>
  <div id="botbar"></div>
</div>

</body></html>
